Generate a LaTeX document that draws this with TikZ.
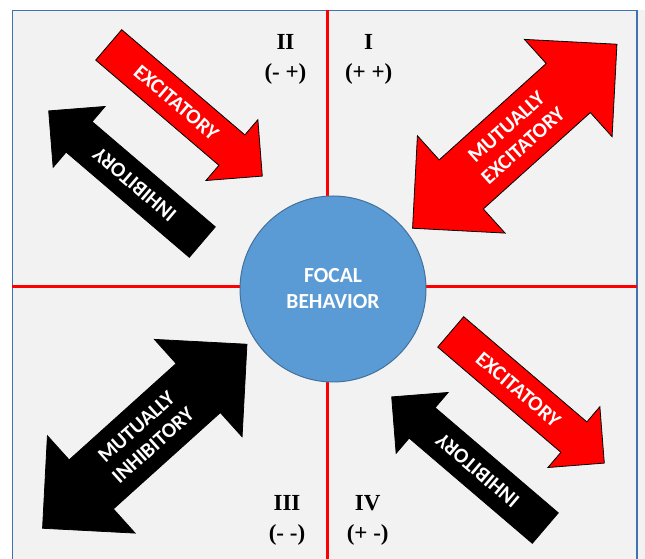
\documentclass[tikz,border=0pt]{standalone}
\usepackage{fontspec}
\setmainfont{Liberation Serif}
\newfontfamily\calibri{Carlito}
\usetikzlibrary{positioning}

\definecolor{panelgray}{HTML}{F2F2F2}
\definecolor{panelblue}{HTML}{3F72B0}
\definecolor{focalblue}{HTML}{5B9BD5}
\definecolor{focalrim}{HTML}{41719C}

\tikzset{
  quadrant/.style={align=center, inner sep=0pt, anchor=north,
    font=\fontsize{23}{30}\selectfont\bfseries},
  axisline/.style={draw=red, line width=3pt},
  blockarrow/.style={draw=black, line width=0.8pt, line join=miter},
  arrowlabel/.style={text=white, align=center, inner sep=0pt,
    font=\calibri\bfseries\fontsize{21}{25}\selectfont},
  pics/onearrow/.style={code={
    \draw[blockarrow, fill=#1] (-101,-20) -- (61,-20) -- (61,-40) -- (101,0)
      -- (61,40) -- (61,20) -- (-101,20) -- cycle;}},
  pics/twoarrow/.style={code={
    \draw[blockarrow, fill=#1] (-137.5,0) -- (-72,65.5) -- (-72,33) -- (72,33)
      -- (72,65.5) -- (137.5,0) -- (72,-65.5) -- (72,-33) -- (-72,-33)
      -- (-72,-65.5) -- cycle;}},
}

\begin{document}
\begin{tikzpicture}[x=1pt, y=1pt]
  \useasboundingbox (0,0) rectangle (645,559);
  % panel
  \fill[white] (0,0) rectangle (645,559);
  \fill[panelgray] (12.3,0) rectangle (645,548.7);
  \draw[panelblue, line width=1.2pt] (12.3,-2) -- (12.3,548.7) -- (637,548.7) -- (637,-2);

  % axes
  \coordinate (north) at (327,548.7);
  \coordinate (south) at (327,0);
  \coordinate (west) at (12.3,272);
  \coordinate (east) at (637,272);
  \draw[axisline] (north) -- (south);
  \draw[axisline] (west) -- (east);

  \node[circle, draw=focalrim, fill=focalblue, line width=1pt, minimum size=186pt,
    inner sep=0pt, text=white, align=center,
    font=\calibri\bfseries\fontsize{21.5}{26}\selectfont] (focal) at (333,270) {FOCAL\\BEHAVIOR};

  % quadrant labels
  \node[quadrant] (qII) at (285.5,525) {II\\(- +)};
  \node[quadrant] (qI) at (368.7,525) {I\\(+ +)};
  \node[quadrant] (qIII) at (287,64) {III\\(- -)};
  \node[quadrant] (qIV) at (367.7,64) {IV\\(+ -)};

  % quadrant II
  \begin{scope}[shift={(185.5,448.5)}, rotate=-40.5]
    \pic[transform shape] {onearrow=red};
    \node[arrowlabel, rotate=-40.5] (exciteII) at (-12,0) {EXCITATORY};
  \end{scope}
  \begin{scope}[shift={(125.5,382.5)}, rotate=139.5]
    \pic[transform shape] {onearrow=black};
    \node[arrowlabel, rotate=139.5] (inhibitII) at (-12,0) {INHIBITORY};
  \end{scope}

  % quadrant I
  \begin{scope}[shift={(514.75,422.75)}, rotate=42]
    \pic[transform shape] {twoarrow=red};
    \node[arrowlabel, rotate=42] (mutualI) at (0,0) {MUTUALLY\\EXCITATORY};
  \end{scope}

  % quadrant III
  \begin{scope}[shift={(144.75,122.75)}, rotate=42]
    \pic[transform shape] {twoarrow=black};
    \node[arrowlabel, rotate=42] (mutualIII) at (0,0) {MUTUALLY\\INHIBITORY};
  \end{scope}

  % quadrant IV
  \begin{scope}[shift={(527.5,161.5)}, rotate=-40.5]
    \pic[transform shape] {onearrow=red};
    \node[arrowlabel, rotate=-40.5] (exciteIV) at (-12,0) {EXCITATORY};
  \end{scope}
  \begin{scope}[shift={(468.5,96.5)}, rotate=139.5]
    \pic[transform shape] {onearrow=black};
    \node[arrowlabel, rotate=139.5] (inhibitIV) at (-12,0) {INHIBITORY};
  \end{scope}
\end{tikzpicture}
\end{document}
